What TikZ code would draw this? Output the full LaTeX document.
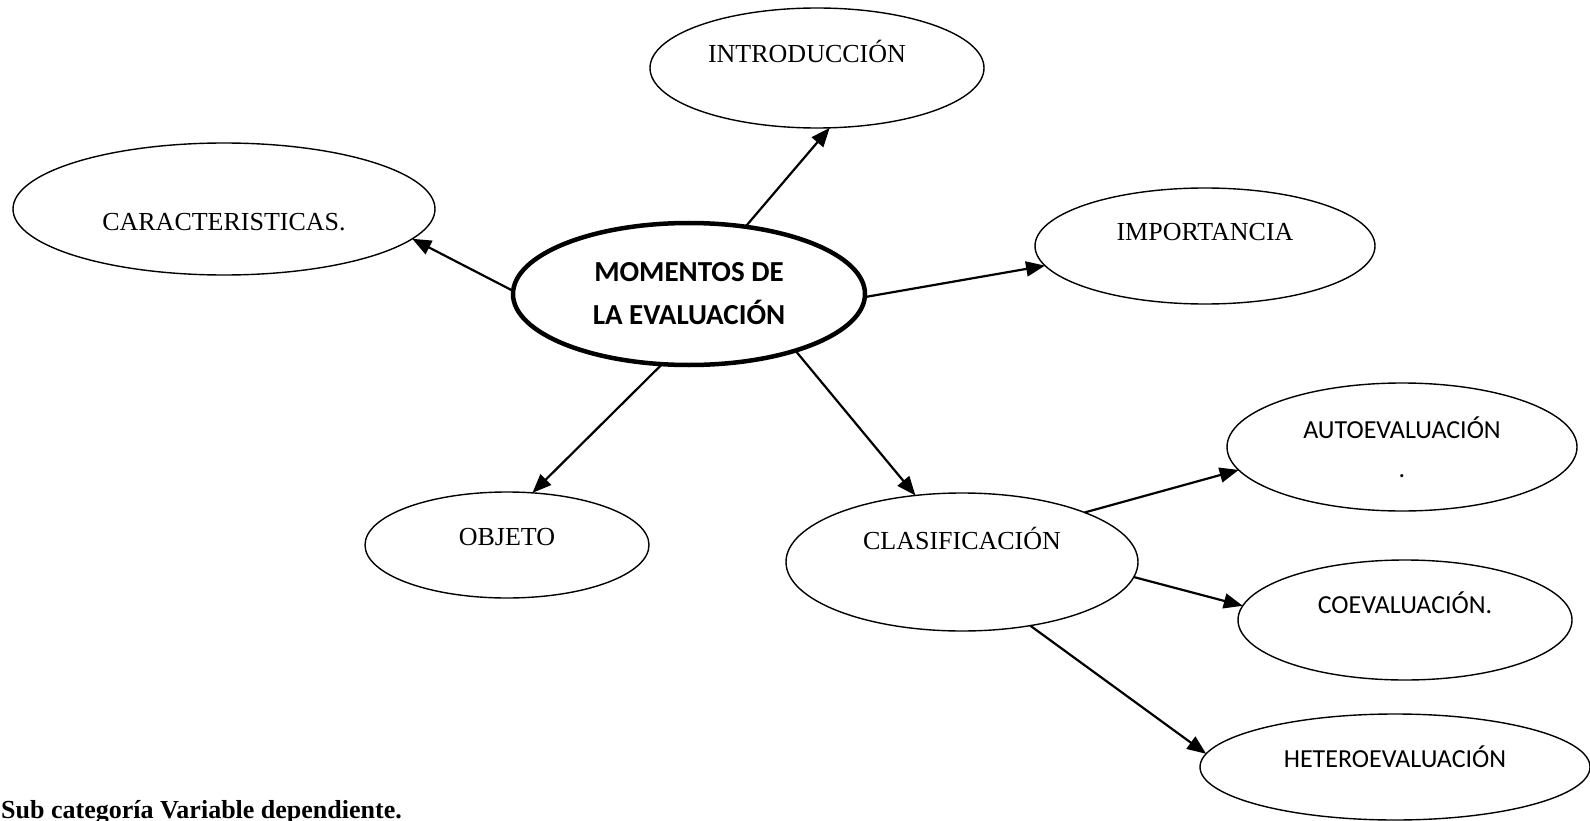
\documentclass[tikz,border=0pt]{standalone}
\usepackage{fontspec}
\setmainfont{Liberation Serif}
\setsansfont{Carlito}
\usetikzlibrary{shapes,arrows.meta}

\begin{document}
\begin{tikzpicture}[x=1pt, y=-1pt,
  bubble/.style={ellipse, draw, line width=1.4pt, inner sep=0pt, outer sep=0pt},
  serif/.style={font=\fontsize{26}{31}\selectfont, text height=17pt, text depth=0pt, inner sep=0pt},
  sans/.style={font=\sffamily\fontsize{26}{31}\selectfont, text height=17pt, text depth=0pt, inner sep=0pt},
  arr/.style={-{Triangle[length=19pt,width=15pt]}, line width=2.2pt}]
  \useasboundingbox (0,0) rectangle (1590,821);
  \node [bubble, line width=4.5pt, minimum width=352pt, minimum height=142pt, align=center, font=\sffamily\bfseries\fontsize{29}{43}\selectfont] (centro) at (689,294) {MOMENTOS DE\\LA EVALUACIÓN};
  \node [bubble, minimum width=334pt, minimum height=120pt, label={[serif, xshift=-10pt, yshift=14pt]center:INTRODUCCIÓN}] (intro) at (817,68) {};
  \node [bubble, minimum width=422pt, minimum height=132pt, label={[serif, yshift=-13pt]center:CARACTERISTICAS.}] (caract) at (224,209) {};
  \node [bubble, minimum width=340pt, minimum height=116pt, label={[serif, yshift=14pt]center:IMPORTANCIA}] (impor) at (1205,246) {};
  \node [bubble, minimum width=284pt, minimum height=106pt, label={[serif, yshift=8pt]center:OBJETO}] (objeto) at (507,545) {};
  \node [bubble, minimum width=352pt, minimum height=138pt, label={[serif, yshift=21pt]center:CLASIFICACIÓN}] (clasif) at (962,562) {};
  \node [bubble, minimum width=350pt, minimum height=128pt, label={[font=\sffamily\fontsize{26}{39}\selectfont, align=center, inner sep=0pt, yshift=0pt]center:AUTOEVALUACIÓN\\.}] (autoev) at (1402,447) {};
  \node [bubble, minimum width=334pt, minimum height=120pt, label={[sans, yshift=15pt]center:COEVALUACIÓN.}] (coev) at (1405,620) {};
  \node [bubble, minimum width=390pt, minimum height=106pt, label={[sans, yshift=8pt]center:HETEROEVALUACIÓN}] (heter) at (1395,767) {};
  \node [anchor=base west, inner sep=0pt, font=\bfseries\fontsize{26}{31}\selectfont] (pie) at (1,818) {Sub categoría Variable dependiente.};
  \path (centro.50) edge [arr] (intro.282);
  \path (centro.179) edge [arr] (caract.-9);
  \path (centro.-1) edge [arr] (impor.187);
  \path (centro.249) edge [arr] (objeto.64);
  \path (centro.-28) edge [arr] (clasif.125);
  \path (clasif.22) edge [arr] (autoev.188);
  \path (clasif.-5) edge [arr] (coev.175);
  \path (clasif.-43) edge [arr] (heter.176);
\end{tikzpicture}
\end{document}
